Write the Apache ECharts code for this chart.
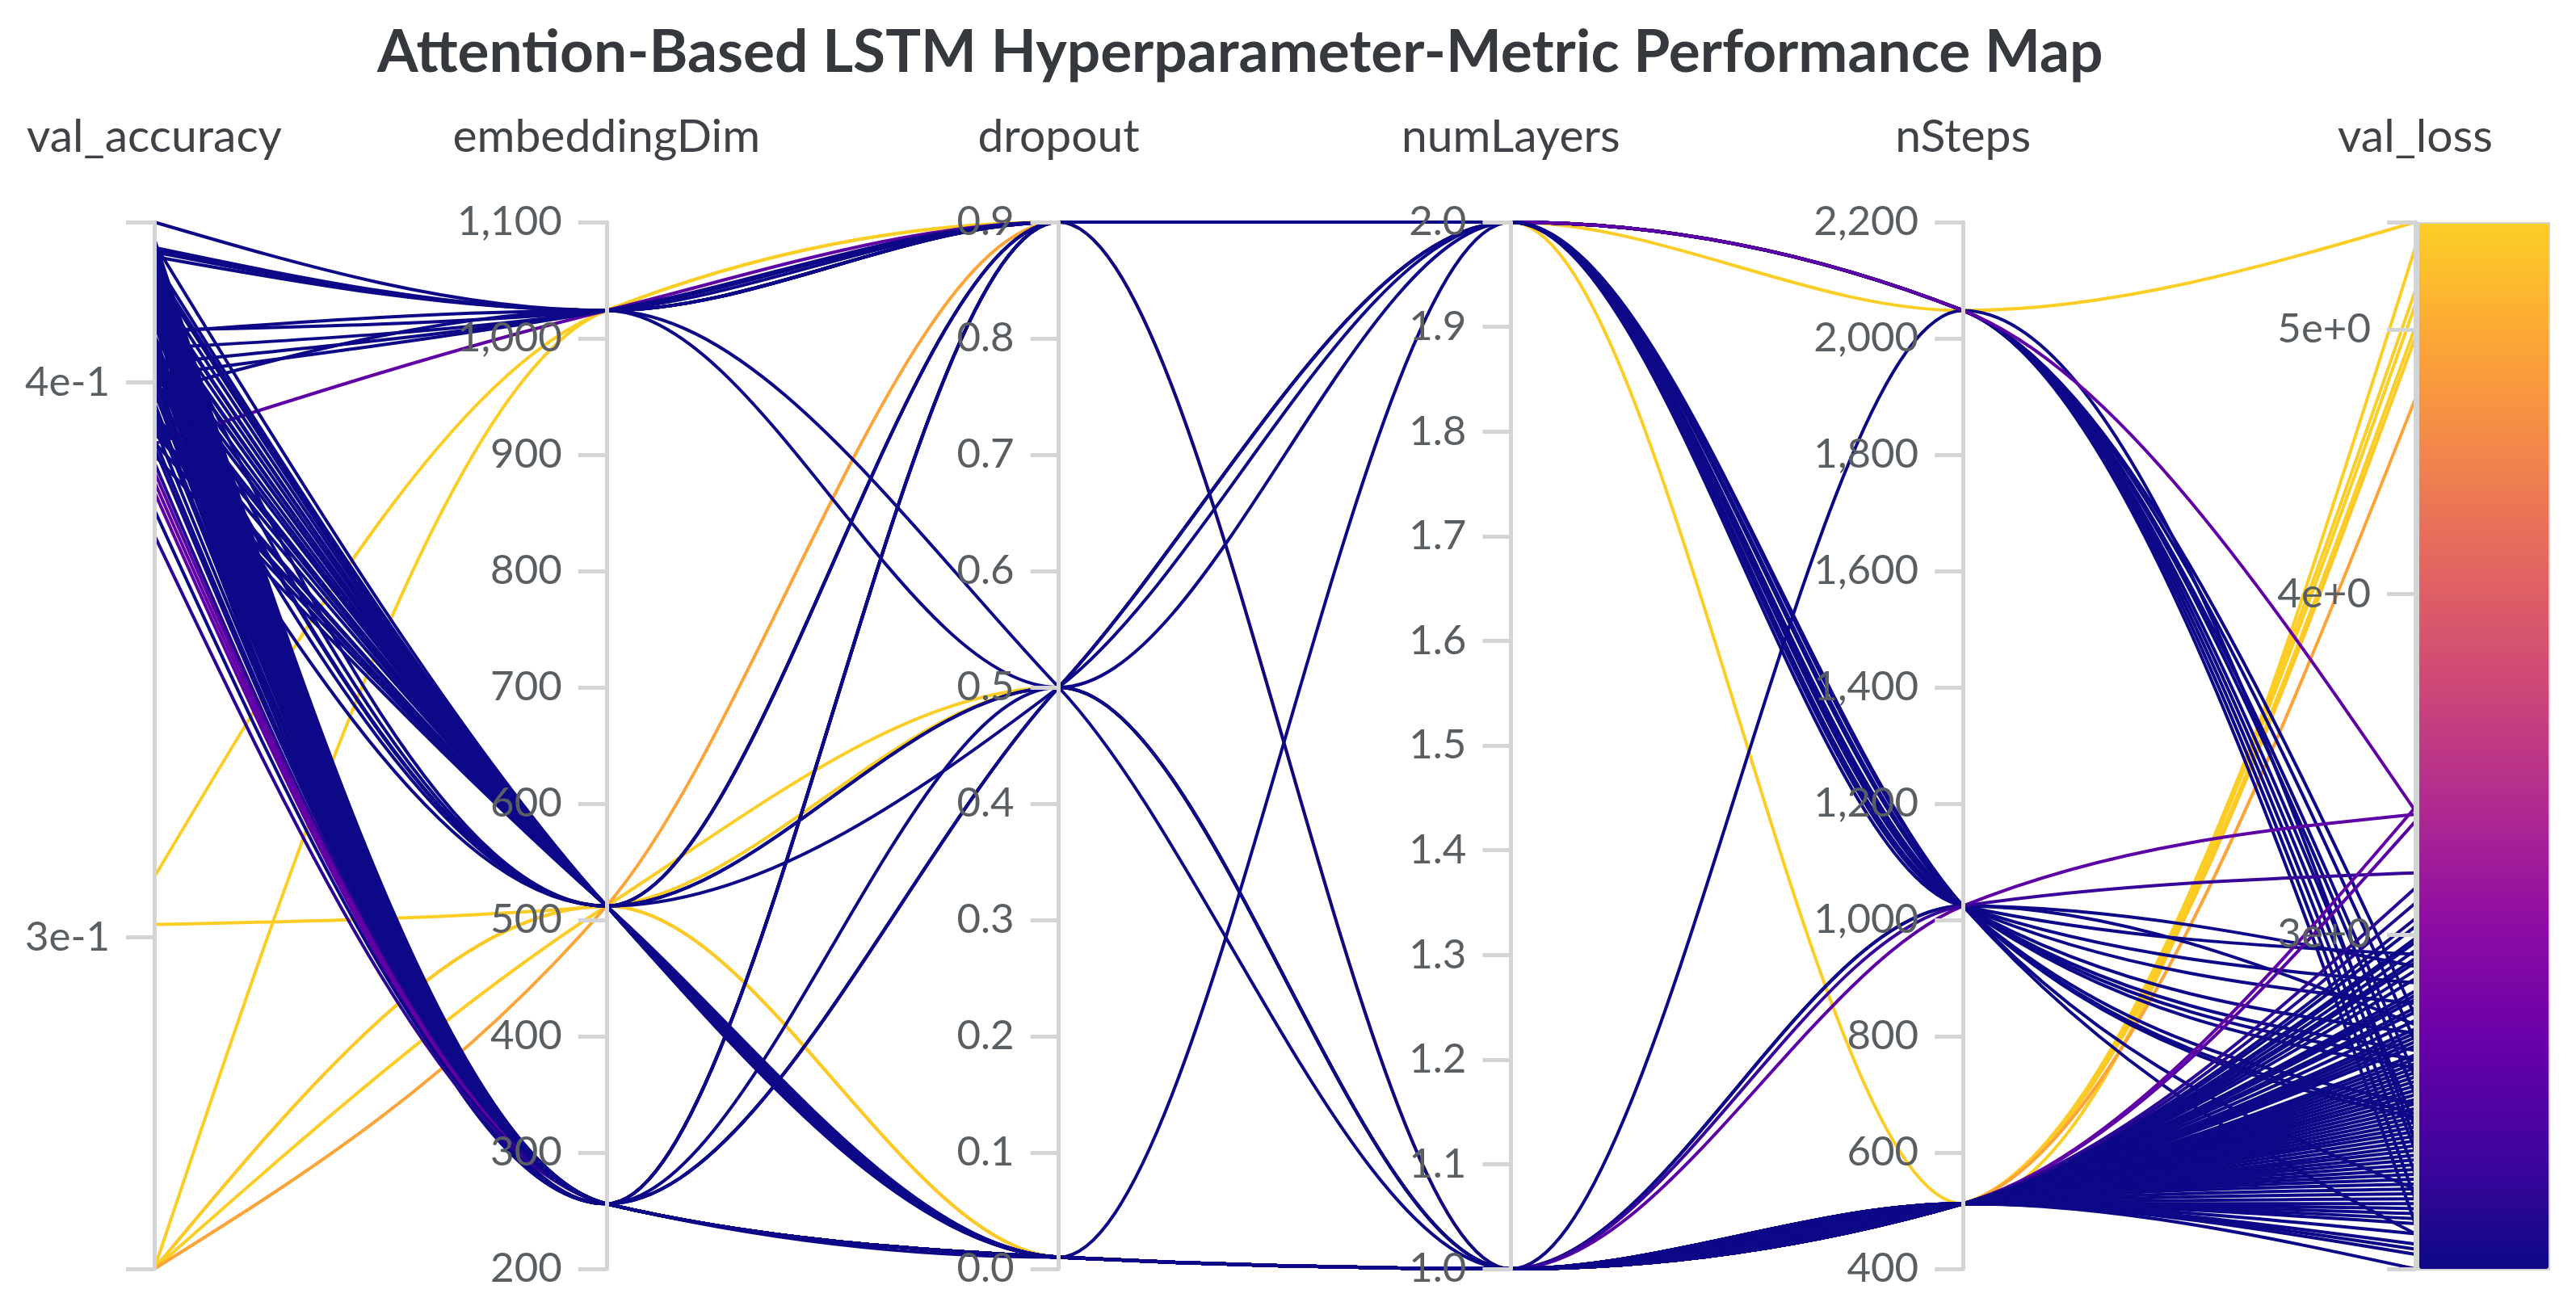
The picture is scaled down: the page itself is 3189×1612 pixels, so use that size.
<!DOCTYPE html>
<html>
<head>
<meta charset="utf-8">
<script src="https://cdn.jsdelivr.net/npm/echarts@6/dist/echarts.min.js"></script>
<style>
  html, body { margin: 0; padding: 0; background: #ffffff; }
  #chart { width: 3189px; height: 1612px; }
</style>
</head>
<body>
<div id="chart"></div>
<script>
// ---------------- data (one entry per run) ----------------
const axisNames = ['val_accuracy', 'embeddingDim', 'dropout', 'numLayers', 'nSteps', 'val_loss'];

const valAccuracy = [
  0.3095, 0.2526, 0.3020, 0.2526, 0.2526, 0.2526, 0.2526,
  0.4347, 0.4290, 0.4270, 0.4040, 0.4200, 0.4250, 0.4150, 0.4050, 0.4120, 0.4280, 0.3875,
  0.4285, 0.4105, 0.4072, 0.3980, 0.3920, 0.4180, 0.4090, 0.3780, 0.4160, 0.4010, 0.4130, 0.3990, 0.4070, 0.3900, 0.4170, 0.4110,
  0.4015, 0.3960, 0.4128, 0.4062,
  0.4310, 0.4300, 0.4295, 0.4285, 0.4262, 0.4255, 0.4241, 0.4236, 0.4222, 0.4214, 0.4205, 0.4193, 0.4186, 0.4174, 0.4165, 0.4157, 0.4148, 0.4139, 0.4126, 0.4118,
  0.4102, 0.4095, 0.4083, 0.4066, 0.4058, 0.4044, 0.4031, 0.4022, 0.4008, 0.3995, 0.3982, 0.3970, 0.3955, 0.3941, 0.3928, 0.3912, 0.3897, 0.3885, 0.3868, 0.3852, 0.3838,
  0.3820, 0.3800, 0.3745, 0.3696, 0.4246, 0.4201, 0.4142, 0.4088, 0.4017, 0.3948, 0.3905, 0.4275, 0.4160, 0.4075, 0.3990, 0.3935, 0.4132, 0.4052, 0.3878, 0.4189, 0.4098
];
const embeddingDim = [
  1024, 1024, 512, 512, 512, 512, 512,
  1024, 1024, 1024, 1024, 512, 256, 256, 256, 512, 1024, 1024,
  1024, 1024, 1024, 1024, 512, 256, 256, 256, 256, 512, 256, 256, 512, 512, 256, 1024,
  1024, 256, 512, 512,
  256, 512, 256, 256, 512, 256, 256, 512, 256, 512, 256, 256, 512, 256, 512, 256, 256, 512, 256, 512,
  256, 512, 256, 256, 512, 256, 512, 256, 256, 512, 256, 512, 256, 256, 512, 256, 512, 256, 256, 512, 256,
  256, 256, 256, 256, 512, 256, 512, 256, 512, 256, 512, 256, 256, 512, 256, 512, 256, 256, 512, 512, 256
];
const dropout = [
  0.9, 0.9, 0.5, 0.5, 0.01, 0.01, 0.9,
  0.9, 0.9, 0.9, 0.9, 0.9, 0.9, 0.9, 0.5, 0.01, 0.9, 0.9,
  0.9, 0.5, 0.9, 0.5, 0.5, 0.01, 0.01, 0.01, 0.9, 0.9, 0.5, 0.9, 0.9, 0.01, 0.5, 0.9,
  0.9, 0.5, 0.5, 0.5,
  0.01, 0.01, 0.01, 0.01, 0.01, 0.01, 0.01, 0.01, 0.01, 0.01, 0.01, 0.01, 0.01, 0.01, 0.01, 0.01, 0.01, 0.01, 0.01, 0.01,
  0.01, 0.01, 0.01, 0.01, 0.01, 0.01, 0.01, 0.01, 0.01, 0.01, 0.01, 0.01, 0.01, 0.01, 0.01, 0.01, 0.01, 0.01, 0.01, 0.01, 0.01,
  0.01, 0.01, 0.01, 0.01, 0.01, 0.01, 0.01, 0.01, 0.01, 0.01, 0.01, 0.01, 0.01, 0.01, 0.01, 0.01, 0.01, 0.01, 0.01, 0.01, 0.01
];
const numLayers = [
  2, 2, 1, 1, 1, 1, 1,
  2, 2, 2, 2, 2, 2, 2, 2, 1, 2, 2,
  2, 2, 2, 1, 2, 2, 1, 1, 2, 2, 2, 2, 2, 1, 2, 2,
  1, 1, 1, 1,
  1, 1, 1, 1, 1, 1, 1, 1, 1, 1, 1, 1, 1, 1, 1, 1, 1, 1, 1, 1,
  1, 1, 1, 1, 1, 1, 1, 1, 1, 1, 1, 1, 1, 1, 1, 1, 1, 1, 1, 1, 1,
  1, 1, 1, 1, 1, 1, 1, 1, 1, 1, 1, 1, 1, 1, 1, 1, 1, 1, 1, 1, 1
];
const nSteps = [
  2048, 512, 512, 512, 512, 512, 512,
  2048, 2048, 2048, 2048, 2048, 2048, 2048, 2048, 2048, 2048, 2048,
  1024, 1024, 1024, 1024, 1024, 1024, 1024, 1024, 1024, 1024, 1024, 1024, 1024, 1024, 1024, 1024,
  512, 512, 512, 512,
  512, 512, 512, 512, 512, 512, 512, 512, 512, 512, 512, 512, 512, 512, 512, 512, 512, 512, 512, 512,
  512, 512, 512, 512, 512, 512, 512, 512, 512, 512, 512, 512, 512, 512, 512, 512, 512, 512, 512, 512, 512,
  512, 512, 512, 512, 512, 512, 512, 512, 512, 512, 512, 512, 512, 512, 512, 512, 512, 512, 512, 512, 512
];
const valLoss = [
  5.474, 5.358, 5.167, 5.104, 5.011, 4.965, 4.715,
  2.45, 2.50, 2.62, 2.80, 2.55, 2.40, 2.66, 2.74, 2.52, 2.35, 3.33,
  2.58, 2.70, 2.76, 2.92, 2.88, 2.60, 2.78, 3.32, 2.68, 2.83, 2.57, 2.95, 2.72, 3.16, 2.42, 2.33,
  2.85, 2.98, 2.63, 2.75,
  2.37, 2.41, 2.33, 2.46, 2.39, 2.52, 2.29, 2.44, 2.58, 2.36, 2.49, 2.62, 2.55, 2.43, 2.66, 2.31, 2.71, 2.47, 2.59, 2.68,
  2.54, 2.76, 2.40, 2.64, 2.81, 2.57, 2.69, 2.86, 2.50, 2.73, 2.91, 2.61, 2.79, 2.94, 2.84, 2.67, 2.99, 2.89, 3.04, 2.96, 3.08,
  3.30, 3.34, 3.02, 3.12, 2.262, 2.35, 2.42, 2.48, 2.56, 2.70, 2.77, 2.30, 2.38, 2.45, 2.53, 2.60, 2.74, 2.82, 2.93, 2.51, 2.65
];

// tick marks shown on the two log-scaled metric axes
const accTickLabels = [0.3, 0.4];
const lossTickLabels = [3, 4, 5];
// colour scale of the lines
const plasmaColors = ['#0d0887', '#41049d', '#6a00a8', '#8f0da4', '#b12a90', '#cc4778', '#e16462', '#f2844b', '#fca636', '#fcce25'];
const colorDomain = [3.02, 5.0];

// ---------------- build ----------------
const lg = Math.log10;
const data = valAccuracy.map((a, i) => [lg(a), embeddingDim[i], dropout[i], numLayers[i], nSteps[i], lg(valLoss[i])]);

const accMin = lg(Math.min(...valAccuracy)), accMax = lg(Math.max(...valAccuracy));
const lossMin = lg(Math.min(...valLoss)), lossMax = lg(Math.max(...valLoss));

const FONT = 'Lato';
const LABEL_COLOR = '#595e63';
const AXIS_COLOR = '#d4d4d4';
const expFmt = v => Math.pow(10, v).toExponential(0);
const thousands = v => Math.round(v).toLocaleString('en-US');
const oneDec = v => (Math.round(v * 10) / 10).toFixed(1);

function axis(dim, extra) {
  return Object.assign({
    dim: dim,
    name: axisNames[dim],
    type: 'value'
  }, extra);
}

const option = {
  backgroundColor: '#ffffff',
  animation: false,
  title: {
    text: 'Attention-Based LSTM Hyperparameter-Metric Performance Map',
    left: 462,
    top: 24,
    textStyle: { fontFamily: FONT, fontWeight: 'bold', fontSize: 73, color: '#35383c' }
  },
  parallel: {
    left: 191,
    right: 199,
    top: 275,
    bottom: 41,
    parallelAxisDefault: {
      nameLocation: 'end',
      nameGap: 77,
      nameTextStyle: { fontFamily: FONT, fontSize: 57, color: '#3f4347' },
      axisLine: { show: true, lineStyle: { color: AXIS_COLOR, width: 5 } },
      axisTick: { show: true, length: -35, lineStyle: { color: AXIS_COLOR, width: 5 } },
      axisLabel: { show: true, margin: -55, align: 'right', fontFamily: FONT, fontSize: 51, color: LABEL_COLOR },
      splitLine: { show: false }
    }
  },
  parallelAxis: [
    axis(0, {
      min: accMin, max: accMax,
      axisTick: { customValues: [accMin].concat(accTickLabels.map(lg), [accMax]) },
      axisLabel: { customValues: accTickLabels.map(lg), formatter: expFmt }
    }),
    axis(1, { min: 200, max: 1100, interval: 100, axisLabel: { formatter: thousands } }),
    axis(2, { min: 0, max: 0.9, interval: 0.1, axisLabel: { formatter: oneDec } }),
    axis(3, { min: 1, max: 2, interval: 0.1, axisLabel: { formatter: oneDec } }),
    axis(4, { min: 400, max: 2200, interval: 200, axisLabel: { formatter: thousands } }),
    axis(5, {
      min: lossMin, max: lossMax,
      axisTick: { customValues: [lossMin].concat(lossTickLabels.map(lg), [lossMax]) },
      axisLabel: { customValues: lossTickLabels.map(lg), formatter: expFmt }
    })
  ],
  visualMap: {
    type: 'continuous',
    dimension: 5,
    seriesIndex: 0,
    min: lg(colorDomain[0]),
    max: lg(colorDomain[1]),
    calculable: false,
    hoverLink: false,
    left: 2993,
    top: 275,
    itemWidth: 160,
    itemHeight: 1294,
    padding: 0,
    borderColor: AXIS_COLOR,
    borderWidth: 4,
    inRange: { color: plasmaColors }
  },
  series: [{
    type: 'parallel',
    smooth: false,
    lineStyle: { width: 4, opacity: 1 },
    data: data
  }]
};

const chart = echarts.init(document.getElementById('chart'), null, { renderer: 'canvas' });
chart.setOption(option);

// Draw each run's polyline (points placed by ECharts' parallel axes) as a
// monotone-in-x cubic curve, so the curves never overshoot between axes.
function monotoneBuildPath(ctx, shape) {
  const pts = shape.points;
  const n = pts ? pts.length : 0;
  if (n < 2) return;
  ctx.moveTo(pts[0][0], pts[0][1]);
  if (n === 2) { ctx.lineTo(pts[1][0], pts[1][1]); return; }
  const sgn = v => (v < 0 ? -1 : 1);
  const t = new Array(n);
  for (let i = 1; i < n - 1; i++) {
    const h0 = pts[i][0] - pts[i - 1][0], h1 = pts[i + 1][0] - pts[i][0];
    const s0 = (pts[i][1] - pts[i - 1][1]) / h0, s1 = (pts[i + 1][1] - pts[i][1]) / h1;
    const p = (s0 * h1 + s1 * h0) / (h0 + h1);
    t[i] = (sgn(s0) + sgn(s1)) * Math.min(Math.abs(s0), Math.abs(s1), 0.5 * Math.abs(p)) || 0;
  }
  const sF = (pts[1][1] - pts[0][1]) / (pts[1][0] - pts[0][0]);
  const sL = (pts[n - 1][1] - pts[n - 2][1]) / (pts[n - 1][0] - pts[n - 2][0]);
  t[0] = (3 * sF - t[1]) / 2;
  t[n - 1] = (3 * sL - t[n - 2]) / 2;
  for (let i = 0; i < n - 1; i++) {
    const dx = (pts[i + 1][0] - pts[i][0]) / 3;
    ctx.bezierCurveTo(pts[i][0] + dx, pts[i][1] + dx * t[i],
                      pts[i + 1][0] - dx, pts[i + 1][1] - dx * t[i + 1],
                      pts[i + 1][0], pts[i + 1][1]);
  }
}
function applyMonotone() {
  const zr = chart.getZr();
  let changed = false;
  zr.storage.getDisplayList(true).forEach(el => {
    if (el.type === 'polyline' && !el.__monotone) {
      el.__monotone = true;
      el.buildPath = monotoneBuildPath;
      el.dirtyShape();
      changed = true;
    }
  });
  if (changed) zr.refreshImmediately();
}
applyMonotone();
chart.on('finished', applyMonotone);
</script>
</body>
</html>
